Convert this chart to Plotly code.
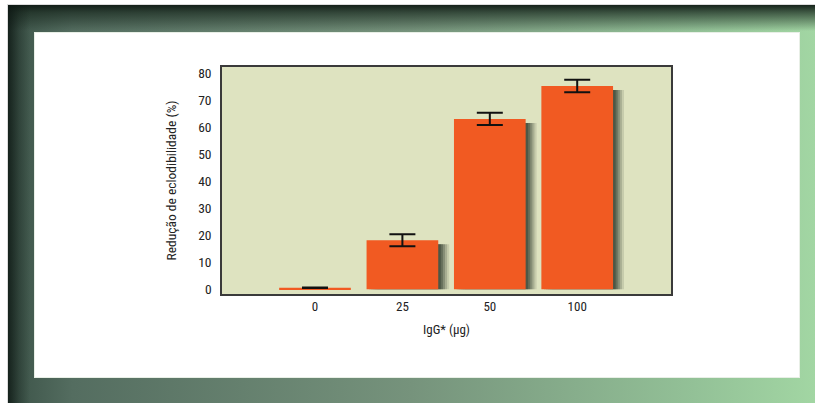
import base64
import plotly.graph_objects as go

# ---- data ----
categories = ["0", "25", "50", "100"]
reduction = [0.6, 18.2, 63.2, 75.4]
error = [0.1, 2.2, 2.3, 2.3]
y_ticks = [0, 10, 20, 30, 40, 50, 60, 70, 80]

W, H = 815, 403
ML, MR, MT, MB = 222, 144, 67, 109
PW, PH = W - ML - MR, H - MT - MB

FONT = "Liberation Sans Narrow, Arial Narrow, Roboto Condensed, Liberation Sans, sans-serif"
ORANGE = "#f15a22"
PLOT_BG = "#dee3c0"

# decorative frame (gradient border + white panel) as an SVG background image
svg = f"""<svg xmlns='http://www.w3.org/2000/svg' width='{W}' height='{H}' viewBox='0 0 {W} {H}'>
<defs>
<linearGradient id='hz' x1='8' y1='0' x2='815' y2='0' gradientUnits='userSpaceOnUse'>
<stop offset='0' stop-color='#3b5247'/>
<stop offset='0.08' stop-color='#546d60'/>
<stop offset='0.5' stop-color='#76937c'/>
<stop offset='0.85' stop-color='#93c197'/>
<stop offset='1' stop-color='#a2d6a3'/>
</linearGradient>
<linearGradient id='top' x1='0' y1='0' x2='0' y2='1'>
<stop offset='0' stop-color='#0f1a14' stop-opacity='0.95'/>
<stop offset='0.3' stop-color='#1a2a20' stop-opacity='0.7'/>
<stop offset='1' stop-color='#1a2a20' stop-opacity='0'/>
</linearGradient>
<linearGradient id='left' x1='0' y1='0' x2='1' y2='0'>
<stop offset='0' stop-color='#0c1612' stop-opacity='0.8'/>
<stop offset='0.5' stop-color='#0c1612' stop-opacity='0.3'/>
<stop offset='1' stop-color='#0c1612' stop-opacity='0'/>
</linearGradient>
</defs>
<rect x='0' y='0' width='{W}' height='{H}' fill='#ffffff'/>
<rect x='7' y='4' width='{W-7}' height='{H-4}' fill='#dcdcdc'/>
<rect x='8' y='5' width='{W-8}' height='{H-5}' fill='url(#hz)'/>
<rect x='8' y='5' width='{W-8}' height='26' fill='url(#top)'/>
<rect x='8' y='5' width='22' height='{H-5}' fill='url(#left)'/>
<rect x='34' y='32' width='766' height='346' fill='#e8efe6'/>
<rect x='35' y='33' width='764' height='344' fill='#ffffff'/>
</svg>"""
svg_uri = "data:image/svg+xml;base64," + base64.b64encode(svg.encode()).decode()

fig = go.Figure()

# soft drop shadows (same data, offset to the right)
bar_w = 0.82
for k, op in enumerate([0.12, 0.18, 0.24, 0.30, 0.34]):
    shift = 0.125 - k * 0.024
    fig.add_trace(go.Bar(
        x=categories, y=[max(v - 1.5, 0) for v in reduction],
        width=bar_w, offset=-bar_w / 2 + shift,
        marker=dict(color=f"rgba(30,40,30,{op})", line=dict(width=0)),
        hoverinfo="skip", showlegend=False,
    ))

fig.add_trace(go.Bar(
    x=categories, y=reduction,
    width=bar_w, offset=-bar_w / 2,
    marker=dict(color=ORANGE, line=dict(width=0)),
    error_y=dict(type="data", array=error, visible=True,
                 color="#111111", thickness=2, width=13),
    showlegend=False,
))

fig.update_layout(
    width=W, height=H,
    margin=dict(l=ML, r=MR, t=MT, b=MB, pad=0),
    paper_bgcolor="#ffffff",
    plot_bgcolor=PLOT_BG,
    barmode="overlay",
    font=dict(family=FONT, size=13, color="#222222"),
    images=[dict(source=svg_uri, xref="paper", yref="paper",
                 x=-ML / PW, y=1 + MT / PH, sizex=W / PW, sizey=H / PH,
                 xanchor="left", yanchor="top", sizing="stretch", layer="below")],
    shapes=[dict(type="rect", xref="paper", yref="paper", x0=0, x1=1, y0=0, y1=1,
                 fillcolor=PLOT_BG, line=dict(width=0), layer="below")],
    xaxis=dict(
        type="category", range=[-1.064, 4.073],
        showgrid=False, zeroline=False, ticks="",
        showline=True, linecolor="#3a3a3a", linewidth=1.5, mirror=True,
        tickfont=dict(size=13, color="#222222"),
        title=dict(text="IgG* (µg)", font=dict(size=13, color="#222222"), standoff=12),
    ),
    yaxis=dict(
        range=[-1.75, 82.45],
        tickvals=y_ticks, ticktext=[str(v) for v in y_ticks],
        showgrid=False, zeroline=False, ticks="", ticklabelstandoff=6,
        showline=True, linecolor="#3a3a3a", linewidth=1.5, mirror=True,
        tickfont=dict(size=13.5, color="#222222"),
        title=dict(text="Redução de eclodibilidade (%)", font=dict(size=13.5, color="#222222"), standoff=18),
    ),
)

fig.write_html(
    "out.html",
    config={"displayModeBar": False},
    post_script="document.body.style.margin='0';document.body.style.overflow='hidden';",
)
